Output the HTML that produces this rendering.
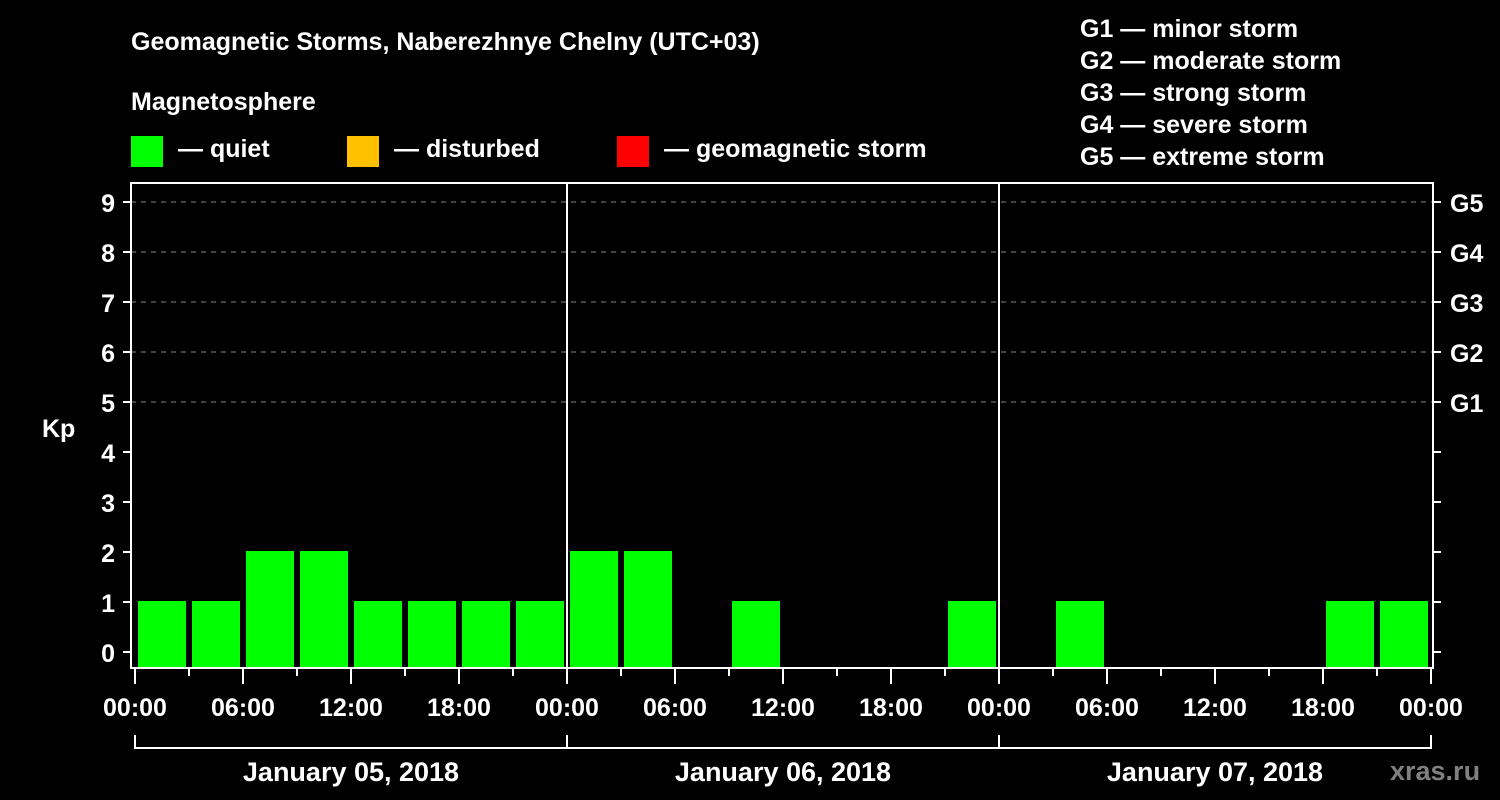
<!DOCTYPE html>
<html><head><meta charset="utf-8"><style>
html,body{margin:0;padding:0;background:#000;}
svg{display:block;font-family:"Liberation Sans",Arial,sans-serif;font-weight:bold;}
</style></head><body>
<svg id="c" width="1500" height="800" viewBox="0 0 1500 800" xmlns="http://www.w3.org/2000/svg">
<rect width="1500" height="800" fill="#000"/>
<text x="131" y="50" fill="#fff" font-size="25">Geomagnetic Storms, Naberezhnye Chelny (UTC+03)</text>
<text x="131" y="110" fill="#fff" font-size="25">Magnetosphere</text>
<g><rect x="131" y="136" width="32" height="31" fill="#00ff00"/><text x="178" y="157" fill="#fff" font-size="25">— quiet</text></g>
<g><rect x="347" y="136" width="32" height="31" fill="#ffc000"/><text x="394" y="157" fill="#fff" font-size="25">— disturbed</text></g>
<g><rect x="617" y="136" width="32" height="31" fill="#ff0000"/><text x="664" y="157" fill="#fff" font-size="25">— geomagnetic storm</text></g>
<g fill="#fff" font-size="25">
<text x="1080" y="37">G1 — minor storm</text>
<text x="1080" y="69">G2 — moderate storm</text>
<text x="1080" y="101">G3 — strong storm</text>
<text x="1080" y="133">G4 — severe storm</text>
<text x="1080" y="165">G5 — extreme storm</text>
</g>
<text x="42" y="437" fill="#fff" font-size="25">Kp</text>
<text x="1390" y="780" fill="#808080" font-size="27">xras.ru</text>
<g id="grid"></g><g id="bars"></g><g id="axes"></g>
</svg>
<script>
const kpValues = [1,1,2,2,1,1,1,1, 2,2,0,1,0,0,0,1, 0,1,0,0,0,0,1,1];
const yTicks = [0,1,2,3,4,5,6,7,8,9];
const gLabels = ["G1","G2","G3","G4","G5"];
const xTickLabels = ["00:00","06:00","12:00","18:00","00:00","06:00","12:00","18:00","00:00","06:00","12:00","18:00","00:00"];
const dayLabels = ["January 05, 2018","January 06, 2018","January 07, 2018"];

const NS="http://www.w3.org/2000/svg";
const X0=135, PXH=18, Y0=652, PXU=50, BOTTOM=668, TOP=183, LEFT=131, RIGHT=1433;
const xs=h=>X0+h*PXH, ys=v=>Y0-v*PXU;
function mk(tag,attrs,parent,txt){const e=document.createElementNS(NS,tag);for(const k in attrs)e.setAttribute(k,attrs[k]);if(txt!==undefined)e.textContent=txt;parent.appendChild(e);return e;}
const grid=document.getElementById('grid'),bars=document.getElementById('bars'),axes=document.getElementById('axes');
// grid lines for G levels
gLabels.forEach((g,i)=>{const y=ys(5+i);
 const l=mk('line',{x1:LEFT,x2:RIGHT,y1:y,y2:y,stroke:'#888','stroke-dasharray':'5,5','stroke-width':1},grid);
 
 
 const t=mk('text',{x:1450,y:y+10,fill:'#fff','font-size':25},axes,g);
 
 
});
kpValues.forEach((v,i)=>{if(v<=0)return;
 const r=mk('rect',{x:xs(i*3)+3,y:ys(v)-1,width:48,height:BOTTOM-1-(ys(v)-1),fill:'#00ff00'},bars);
 
 
});
// frame
const fr=mk('path',{d:`M${LEFT},${TOP} H${RIGHT} V${BOTTOM} H${LEFT} Z`,fill:'none',stroke:'#fff','stroke-width':2},axes);


[1,2].forEach(d=>{const l=mk('line',{x1:xs(d*24),x2:xs(d*24),y1:TOP,y2:BOTTOM,stroke:'#fff','stroke-width':2},axes);
 
 });
yTicks.forEach(v=>{const y=ys(v);
 mk('line',{x1:LEFT-8,x2:LEFT,y1:y,y2:y,stroke:'#fff','stroke-width':2},axes);
 mk('line',{x1:RIGHT,x2:RIGHT+8,y1:y,y2:y,stroke:'#fff','stroke-width':2},axes);
 const t=mk('text',{x:115,y:y+10,fill:'#fff','font-size':25,'text-anchor':'end'},axes,String(v));
 
 
});
for(let h=0;h<=72;h+=3){const x=xs(h),major=h%6===0;
 mk('line',{x1:x,x2:x,y1:BOTTOM,y2:BOTTOM+(major?16:8),stroke:'#fff','stroke-width':2},axes);}
xTickLabels.forEach((s,i)=>{const t=mk('text',{x:xs(i*6),y:716,fill:'#fff','font-size':25,'text-anchor':'middle'},axes,s);
 
 });
dayLabels.forEach((s,d)=>{const a=xs(d*24),b=xs(d*24+24);
 mk('path',{d:`M${a},735 V748 H${b} V735`,fill:'none',stroke:'#fff','stroke-width':2},axes);
 const t=mk('text',{x:(a+b)/2,y:781,fill:'#fff','font-size':27,'text-anchor':'middle'},axes,s);
 
 });
</script>
</body></html>
